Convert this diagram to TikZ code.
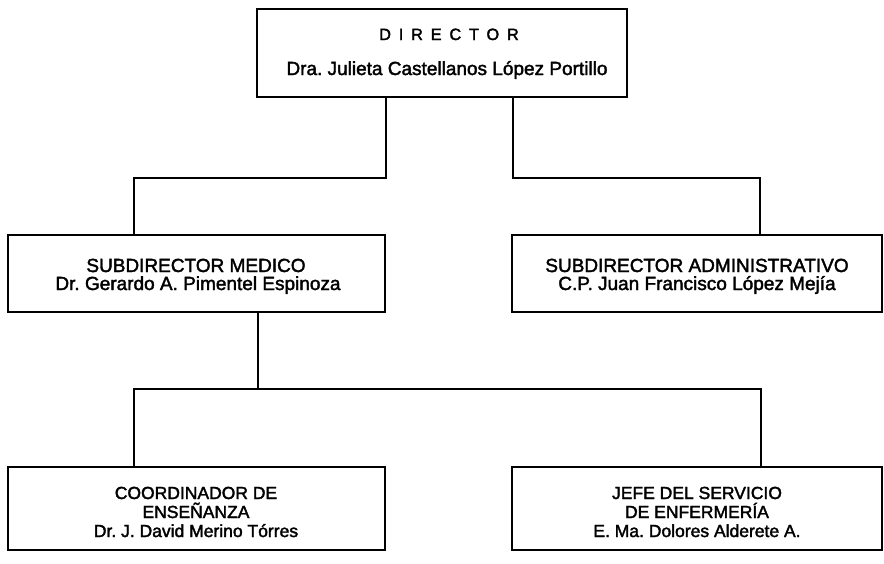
\documentclass[tikz,border=0pt]{standalone}
\usepackage{fontspec}
\setmainfont{Liberation Sans}[BoldFont={Liberation Sans},BoldFeatures={FakeBold=2}]
\frenchspacing
\begin{document}
\begin{tikzpicture}[x=1pt,y=-1pt,
  orgbox/.style={draw=black, line width=1.8pt, rectangle, inner sep=0pt},
  conn/.style={draw=black, line width=1.8pt},
  txt/.style={anchor=base, inner sep=0pt, font=\fontsize{19}{19}\selectfont\bfseries},
  txtb/.style={anchor=base, inner sep=0pt, font=\fontsize{17.5}{19}\selectfont\bfseries}]
\useasboundingbox[fill=white] (0,0) rectangle (884,563);
% boxes
\node[orgbox, minimum width=370pt, minimum height=88pt] (dir) at (442,53) {};
\node[orgbox, minimum width=377pt, minimum height=77pt] (sm) at (196.5,273.5) {};
\node[orgbox, minimum width=370pt, minimum height=77pt] (sa) at (697,273.5) {};
\node[orgbox, minimum width=377pt, minimum height=83pt] (ce) at (196.5,508.5) {};
\node[orgbox, minimum width=370pt, minimum height=83pt] (je) at (697,508.5) {};
% texts
\node[anchor=base, inner sep=0pt, font=\fontsize{16.3}{18}\selectfont\bfseries\addfontfeatures{LetterSpace=48}] (dirt) at (449,40) {DIRECTOR};
\node[txt] (dirn) at (447,75) {Dra. Julieta Castellanos López Portillo};
\node[txt] (smt) at (196,272) {SUBDIRECTOR MEDICO};
\node[txt] (smn) at (198,290) {Dr. Gerardo A. Pimentel Espinoza};
\node[txt] (sat) at (697,272) {SUBDIRECTOR ADMINISTRATIVO};
\node[txt] (san) at (697,290) {C.P. Juan Francisco López Mejía};
\node[txtb] (cet1) at (196,499) {COORDINADOR DE};
\node[txtb] (cet2) at (196,518) {ENSEÑANZA};
\node[txtb] (cen) at (196,537) {Dr. J. David Merino Tórres};
\node[txtb] (jet1) at (697,499) {JEFE DEL SERVICIO};
\node[txtb] (jet2) at (697,518) {DE ENFERMERÍA};
\node[txtb] (jen) at (697,537) {E. Ma. Dolores Alderete A.};
% junctions
\coordinate (a1) at (386,178);
\coordinate (b1) at (134,178);
\coordinate (a2) at (513,178);
\coordinate (b2) at (760,178);
\coordinate (c0) at (258,389);
\coordinate (c1) at (134,389);
\coordinate (c2) at (761,389);
% connectors
\draw[conn] (dir.south -| a1) -- (a1) -- (b1) -- (sm.north -| b1);
\draw[conn] (dir.south -| a2) -- (a2) -- (b2) -- (sa.north -| b2);
\draw[conn] (sm.south -| c0) -- (c0);
\draw[conn] (ce.north -| c1) -- (c1) -- (c2) -- (je.north -| c2);
\end{tikzpicture}
\end{document}
